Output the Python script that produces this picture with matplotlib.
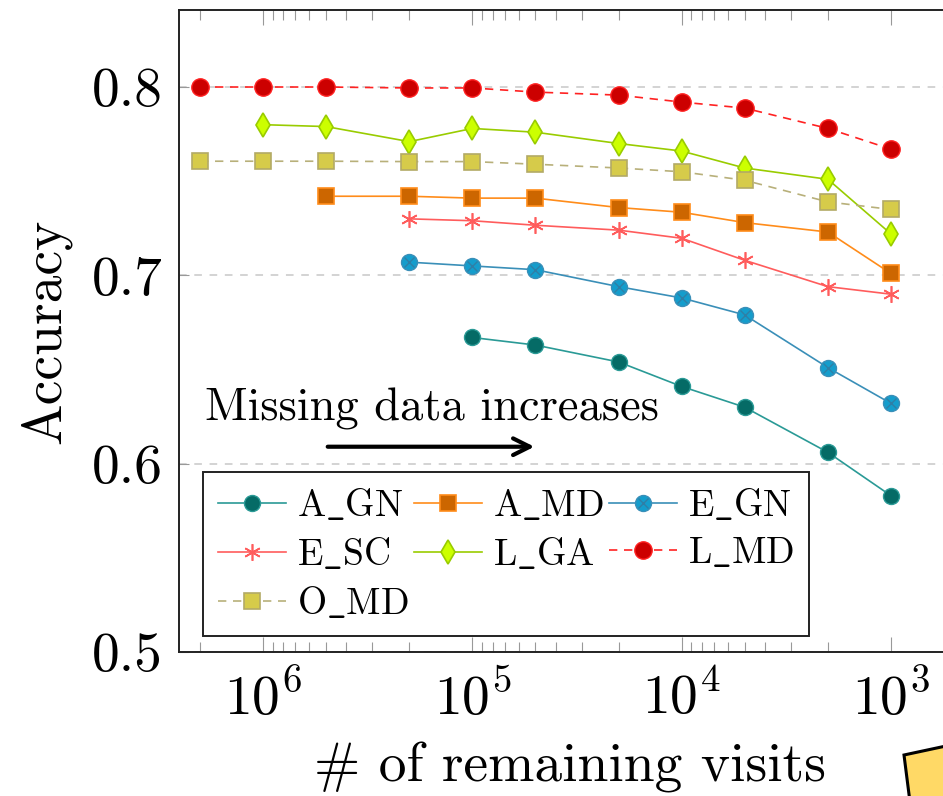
import matplotlib
matplotlib.use('Agg')
import matplotlib.pyplot as plt
from matplotlib.ticker import FixedLocator, LogFormatterSciNotation, NullFormatter
from matplotlib.legend_handler import HandlerTuple
from matplotlib.patches import Polygon

plt.rcParams['font.family'] = ['cmr10', 'DejaVu Serif']
plt.rcParams['mathtext.fontset'] = 'cm'
plt.rcParams['axes.formatter.use_mathtext'] = True

# remaining visits, largest first
visits = [2e6, 1e6, 5e5, 2e5, 1e5, 5e4, 2e4, 1e4, 5e3, 2e3, 1e3]

a_gn = [0.667, 0.663, 0.654, 0.641, 0.630, 0.606, 0.583]
a_md = [0.742, 0.742, 0.741, 0.741, 0.736, 0.7335, 0.728, 0.723, 0.701]
e_gn = [0.707, 0.705, 0.703, 0.694, 0.688, 0.679, 0.651, 0.632]
e_sc = [0.730, 0.729, 0.7266, 0.724, 0.7197, 0.708, 0.694, 0.690]
l_ga = [0.780, 0.779, 0.771, 0.778, 0.776, 0.770, 0.766, 0.757, 0.751, 0.722]
l_md = [0.800, 0.800, 0.800, 0.7995, 0.7995, 0.7973, 0.7957, 0.792, 0.7888, 0.778, 0.767]
o_md = [0.7606, 0.7606, 0.7606, 0.7604, 0.7604, 0.759, 0.757, 0.755, 0.7505, 0.739, 0.735]

fig = plt.figure(figsize=(9.43, 7.96), dpi=100)
W, H = 943, 796
x0, x1, ytop, ybot = 179.3, 960.0, 10.0, 652.0
ax = fig.add_axes([x0 / W, 1 - ybot / H, (x1 - x0) / W, (ybot - ytop) / H])

lw = 1.2
ms = 12

def tail(vals):
    return visits[len(visits) - len(vals):]

h_agn, = ax.plot(tail(a_gn), a_gn, '-o', color='#2a9a96', lw=lw, ms=ms - 0.5,
                 mfc='#056b66', mec='#2a9a96', mew=1.0)
h_amd, = ax.plot(tail(a_md), a_md, '-s', color='#ff8c1a', lw=lw, ms=ms,
                 mfc='#cc6600', mec='#ff8c1a', mew=1.2)
h_egn, = ax.plot(tail(e_gn), e_gn, '-o', color='#3a8fb8', lw=lw, ms=ms - 0.5,
                 mfc='#149dcc', mec='#3a8fb8', mew=1.0)
h_egx, = ax.plot(tail(e_gn), e_gn, 'x', color='#2f7fa6', ms=7, mew=1.0)
h_esc, = ax.plot(tail(e_sc), e_sc, '-', marker=(6, 2, 0), color='#ff5c5c', lw=lw,
                 ms=ms, mew=1.2)
h_lga, = ax.plot(tail(l_ga), l_ga, '-d', color='#99cc00', lw=lw, ms=ms,
                 mfc='#ccff00', mec='#99cc00', mew=1.2)
h_lmd, = ax.plot(tail(l_md), l_md, '--o', color='#ff2222', lw=lw, ms=ms + 0.5,
                 mfc='#cc0000', mec='#ff2222', mew=1.0, dashes=(5, 4))
h_omd, = ax.plot(tail(o_md), o_md, '--s', color='#b8b07a', lw=lw, ms=ms,
                 mfc='#d6cb4a', mec='#b3aa66', mew=1.2, dashes=(5, 4))

ax.set_xscale('log')
ax.set_xlim(10 ** 6.4, 10 ** (6.4 - (x1 - x0) / 209.3))
ax.set_ylim(0.5, 0.8 + (87 - ytop) / 1883)

ax.xaxis.set_major_locator(FixedLocator([1e6, 1e5, 1e4, 1e3]))
ax.xaxis.set_major_formatter(LogFormatterSciNotation())
minor = [2e6] + [k * 10 ** e for e in (5, 4, 3) for k in range(2, 10)]
ax.xaxis.set_minor_locator(FixedLocator(minor))
ax.xaxis.set_minor_formatter(NullFormatter())
ax.set_yticks([0.5, 0.6, 0.7, 0.8])
ax.set_yticklabels(['0.5', '0.6', '0.7', '0.8'])

ax.tick_params(axis='x', which='major', direction='in', length=11, width=0.8,
               color='#999999', top=True, labelsize=40, pad=13.5)
ax.tick_params(axis='x', which='minor', direction='in', length=7.5, width=0.8,
               color='#999999', top=True)
ax.tick_params(axis='y', which='major', direction='in', length=7, width=0.8,
               color='#999999', labelsize=40, pad=12)
ax.tick_params(axis='y', which='minor', left=False, right=False)

ax.grid(axis='y', which='major', color='#c8c8c8', lw=1.1, dashes=(5, 5))
ax.set_axisbelow(True)
for s in ('left', 'bottom', 'top'):
    ax.spines[s].set_linewidth(1.4)
    ax.spines[s].set_color('#222222')
ax.spines['right'].set_visible(False)

ax.set_xlabel('# of remaining visits', fontsize=40, labelpad=11)
ax.set_ylabel('Accuracy', fontsize=40, labelpad=15)

ax.text(1.89e6, 0.623, 'Missing data increases', fontsize=33.5, ha='left', va='baseline')
ax.annotate('', xy=(4.9e4, 0.609), xytext=(5.06e5, 0.609),
            arrowprops=dict(arrowstyle='->', lw=3, color='black', mutation_scale=30))

handles = [h_agn, h_esc, h_omd, h_amd, h_lga, (h_egn, h_egx), h_lmd]
names = ['A_GN', 'E_SC', 'O_MD', 'A_MD', 'L_GA', 'E_GN', 'L_MD']
labels = [r'$\mathrm{%s}$' % n.replace('_', r'\_') for n in names]
leg = ax.legend(handles, labels, ncol=3, loc='upper left',
                bbox_to_anchor=((203 - x0) / (x1 - x0), (ybot - 472) / (ybot - ytop)),
                borderaxespad=0, fontsize=27, fancybox=False, framealpha=1,
                edgecolor='#222222', handlelength=1.8, handletextpad=0.3,
                columnspacing=0.15, labelspacing=0.35, borderpad=0.4,
                handler_map={tuple: HandlerTuple(ndivide=1)})
leg.get_frame().set_linewidth(1.4)

# corner of the neighbouring note
fig.patches.append(Polygon([(904 / W, 1 - 755 / H), (960 / W, 1 - 743 / H),
                            (970 / W, 1 - 810 / H), (911 / W, 1 - 810 / H)],
                           closed=True, transform=fig.transFigure,
                           facecolor='#ffd966', edgecolor='black', lw=2.2))

fig.savefig('out.png', dpi=100)
